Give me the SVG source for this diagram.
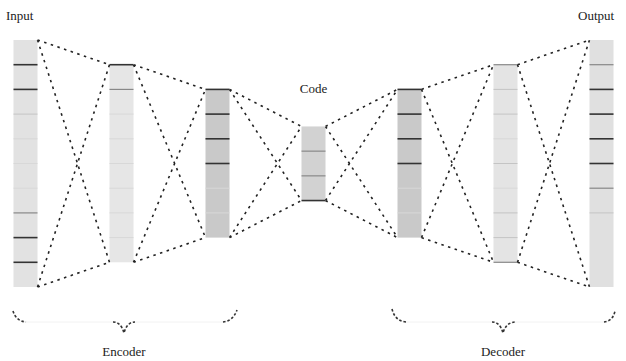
<svg xmlns="http://www.w3.org/2000/svg" width="626" height="361" viewBox="0 0 626 361">
<style>
text{font-family:"Liberation Serif","DejaVu Serif",serif;fill:#222;}
.lbl{font-size:13px;}
.cell{stroke:none;}
.dk{stroke:#333;stroke-width:1.6;}
.md{stroke:#888;stroke-width:1.2;}
.lt{stroke:#c4c4c4;stroke-width:1;}
.fa{stroke:#d8d8d8;stroke-width:1;}
.con{fill:none;stroke:#222;stroke-width:1.6;stroke-dasharray:2.5 4.5;}
.brace{fill:none;stroke:#f2f2f2;stroke-width:1;}
.hook{fill:none;stroke:#333;stroke-width:1.6;stroke-dasharray:2.5 2;}
</style>
<rect width="626" height="361" fill="#ffffff"/>

<g id="input">
<rect class="cell" x="13.5" y="40" width="24" height="247" fill="#e2e2e2"/>
<line class="dk" x1="13.5" x2="37.5" y1="64.7" y2="64.7"/>
<line class="dk" x1="13.5" x2="37.5" y1="89.4" y2="89.4"/>
<line class="lt" x1="13.5" x2="37.5" y1="114.1" y2="114.1"/>
<line class="fa" x1="13.5" x2="37.5" y1="138.8" y2="138.8"/>
<line class="fa" x1="13.5" x2="37.5" y1="163.5" y2="163.5"/>
<line class="fa" x1="13.5" x2="37.5" y1="188.2" y2="188.2"/>
<line class="md" x1="13.5" x2="37.5" y1="212.9" y2="212.9"/>
<line class="dk" x1="13.5" x2="37.5" y1="237.6" y2="237.6"/>
<line class="dk" x1="13.5" x2="37.5" y1="262.3" y2="262.3"/>
<text class="lbl" x="6" y="20">Input</text>
</g>

<g id="enc1">
<rect class="cell" x="109.5" y="64.7" width="24" height="197.6" fill="#e6e6e6"/>
<line class="dk" x1="109.5" x2="133.5" y1="64.7" y2="64.7"/>
<line class="md" x1="109.5" x2="133.5" y1="89.4" y2="89.4"/>
<line class="fa" x1="109.5" x2="133.5" y1="114.1" y2="114.1"/>
<line class="fa" x1="109.5" x2="133.5" y1="138.8" y2="138.8"/>
<line class="fa" x1="109.5" x2="133.5" y1="163.5" y2="163.5"/>
<line class="fa" x1="109.5" x2="133.5" y1="188.2" y2="188.2"/>
<line class="fa" x1="109.5" x2="133.5" y1="212.9" y2="212.9"/>
<line class="fa" x1="109.5" x2="133.5" y1="237.6" y2="237.6"/>
</g>

<g id="enc2">
<rect class="cell" x="205.5" y="89.4" width="24" height="148.2" fill="#c9c9c9"/>
<line class="dk" x1="205.5" x2="229.5" y1="89.4" y2="89.4"/>
<line class="dk" x1="205.5" x2="229.5" y1="114.1" y2="114.1"/>
<line class="dk" x1="205.5" x2="229.5" y1="138.8" y2="138.8"/>
<line class="dk" x1="205.5" x2="229.5" y1="163.5" y2="163.5"/>
<line class="fa" x1="205.5" x2="229.5" y1="188.2" y2="188.2"/>
<line class="fa" x1="205.5" x2="229.5" y1="212.9" y2="212.9"/>
</g>

<g id="code">
<rect class="cell" x="301.5" y="126.45" width="24" height="74.1" fill="#d2d2d2"/>
<line class="md" x1="301.5" x2="325.5" y1="151.15" y2="151.15"/>
<line class="md" x1="301.5" x2="325.5" y1="175.85" y2="175.85"/>
<line class="dk" x1="301.5" x2="325.5" y1="200.55" y2="200.55"/>
<text class="lbl" x="313.5" y="93" text-anchor="middle">Code</text>
</g>

<g id="dec1">
<rect class="cell" x="397.5" y="89.4" width="24" height="148.2" fill="#c9c9c9"/>
<line class="dk" x1="397.5" x2="421.5" y1="89.4" y2="89.4"/>
<line class="dk" x1="397.5" x2="421.5" y1="114.1" y2="114.1"/>
<line class="dk" x1="397.5" x2="421.5" y1="138.8" y2="138.8"/>
<line class="dk" x1="397.5" x2="421.5" y1="163.5" y2="163.5"/>
<line class="fa" x1="397.5" x2="421.5" y1="188.2" y2="188.2"/>
<line class="fa" x1="397.5" x2="421.5" y1="212.9" y2="212.9"/>
</g>

<g id="dec2">
<rect class="cell" x="493.5" y="64.7" width="24" height="197.6" fill="#e4e4e4"/>
<line class="md" x1="493.5" x2="517.5" y1="64.7" y2="64.7"/>
<line class="lt" x1="493.5" x2="517.5" y1="89.4" y2="89.4"/>
<line class="lt" x1="493.5" x2="517.5" y1="114.1" y2="114.1"/>
<line class="fa" x1="493.5" x2="517.5" y1="138.8" y2="138.8"/>
<line class="lt" x1="493.5" x2="517.5" y1="163.5" y2="163.5"/>
<line class="fa" x1="493.5" x2="517.5" y1="188.2" y2="188.2"/>
<line class="lt" x1="493.5" x2="517.5" y1="212.9" y2="212.9"/>
<line class="lt" x1="493.5" x2="517.5" y1="237.6" y2="237.6"/>
<line class="md" x1="493.5" x2="517.5" y1="262.3" y2="262.3"/>
</g>

<g id="output">
<rect class="cell" x="589.5" y="40" width="24" height="247" fill="#e0e0e0"/>
<line class="md" x1="589.5" x2="613.5" y1="64.7" y2="64.7"/>
<line class="dk" x1="589.5" x2="613.5" y1="89.4" y2="89.4"/>
<line class="dk" x1="589.5" x2="613.5" y1="114.1" y2="114.1"/>
<line class="dk" x1="589.5" x2="613.5" y1="138.8" y2="138.8"/>
<line class="dk" x1="589.5" x2="613.5" y1="163.5" y2="163.5"/>
<line class="md" x1="589.5" x2="613.5" y1="188.2" y2="188.2"/>
<line class="lt" x1="589.5" x2="613.5" y1="212.9" y2="212.9"/>
<text class="lbl" x="578" y="20">Output</text>
</g>

<g id="connectors">
<path class="con" d="M37.5,40 L109.5,64.7 M37.5,40 L109.5,262.3 M37.5,287 L109.5,64.7 M37.5,287 L109.5,262.3"/>
<path class="con" d="M133.5,64.7 L205.5,89.4 M133.5,64.7 L205.5,237.6 M133.5,262.3 L205.5,89.4 M133.5,262.3 L205.5,237.6"/>
<path class="con" d="M229.5,89.4 L301.5,126.45 M229.5,89.4 L301.5,200.55 M229.5,237.6 L301.5,126.45 M229.5,237.6 L301.5,200.55"/>
<path class="con" d="M325.5,126.45 L397.5,89.4 M325.5,126.45 L397.5,237.6 M325.5,200.55 L397.5,89.4 M325.5,200.55 L397.5,237.6"/>
<path class="con" d="M421.5,89.4 L493.5,64.7 M421.5,89.4 L493.5,262.3 M421.5,237.6 L493.5,64.7 M421.5,237.6 L493.5,262.3"/>
<path class="con" d="M517.5,64.7 L589.5,40 M517.5,64.7 L589.5,287 M517.5,262.3 L589.5,40 M517.5,262.3 L589.5,287"/>
</g>

<g id="encoder">
<path class="brace" d="M13,311 Q16,322 26,322 L113,322 Q121,322 124,333 Q127,322 135,322 L223,322 Q233,322 237,310"/>
<path class="hook" d="M13,311 Q16,321 26,322"/>
<path class="hook" d="M113,322 Q121,322 124,333 Q127,322 135,322"/>
<path class="hook" d="M223,322 Q233,321 237,310"/>
<text class="lbl" x="124" y="356" text-anchor="middle">Encoder</text>
</g>

<g id="decoder">
<path class="brace" d="M392,309 Q395,322 406,322 L492,322 Q500,322 503,333 Q506,322 516,322 L604,322 Q613,322 615,311"/>
<path class="hook" d="M392,309 Q395,321 406,322"/>
<path class="hook" d="M492,322 Q500,322 503,333 Q506,322 516,322"/>
<path class="hook" d="M604,322 Q613,321 615,311"/>
<text class="lbl" x="503" y="356" text-anchor="middle">Decoder</text>
</g>
</svg>
